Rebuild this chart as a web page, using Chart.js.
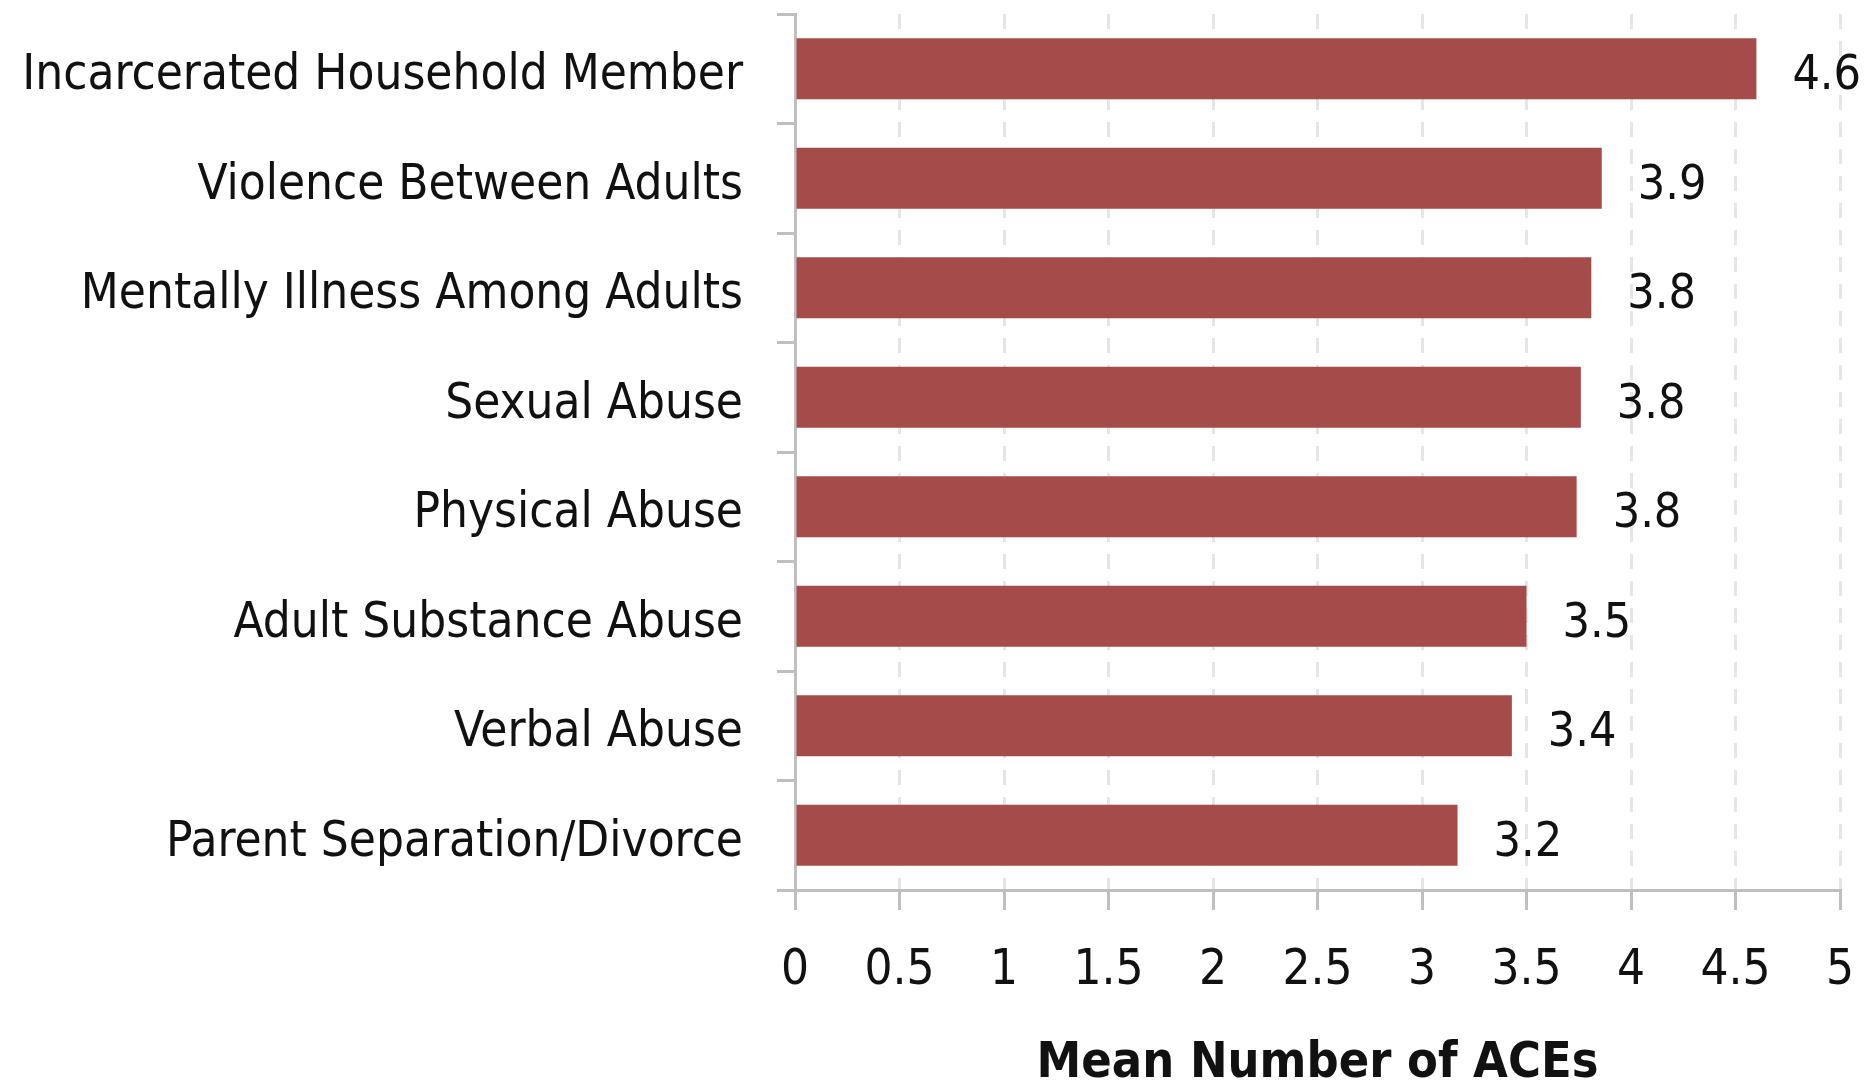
<!DOCTYPE html>
<html>
<head>
<meta charset="utf-8">
<script src="https://cdn.jsdelivr.net/npm/chart.js@4.4.1/dist/chart.umd.min.js"></script>
<style>
    html, body { margin: 0; padding: 0; background: #ffffff; }
    #caixa { width: 1874px; height: 1088px; }
</style>
</head>
<body>
<div id="caixa"><canvas id="grafico"></canvas></div>
<script>
const categorias = [
    "Incarcerated Household Member",
    "Violence Between Adults",
    "Mentally Illness Among Adults",
    "Sexual Abuse",
    "Physical Abuse",
    "Adult Substance Abuse",
    "Verbal Abuse",
    "Parent Separation/Divorce"
];
const medias = [4.60, 3.86, 3.81, 3.76, 3.74, 3.50, 3.43, 3.17];
const rotulosDosValores = ["4.6", "3.9", "3.8", "3.8", "3.8", "3.5", "3.4", "3.2"];
const ticksDoEixoX = [0, 0.5, 1, 1.5, 2, 2.5, 3, 3.5, 4, 4.5, 5];

const fonte = "'Liberation Sans Narrow', 'DejaVu Sans Condensed', 'Open Sans', sans-serif";
const corDaBarra = "#a54b49";
const corDoEixo = "#bfbfbf";

// escreve o valor ao lado de cada barra
const rotulosNasBarras = {
    id: "rotulosNasBarras",
    afterDatasetsDraw(chart) {
        const ctx = chart.ctx;
        const meta = chart.getDatasetMeta(0);
        ctx.save();
        ctx.font = "48px " + fonte;
        ctx.fillStyle = "#111111";
        ctx.textAlign = "left";
        ctx.textBaseline = "middle";
        meta.data.forEach((barra, i) => {
            ctx.fillText(rotulosDosValores[i], barra.x + 36, barra.y + 8);
        });
        ctx.restore();
    }
};

new Chart(document.querySelector("#grafico"), {
    type: "bar",
    plugins: [rotulosNasBarras],
    data: {
        labels: categorias,
        datasets: [{
            data: medias,
            backgroundColor: corDaBarra,
            borderWidth: 0,
            categoryPercentage: 1,
            barPercentage: 0.557
        }]
    },
    options: {
        indexAxis: "y",
        responsive: true,
        maintainAspectRatio: false,
        animation: false,
        layout: { padding: { top: 14, right: 34, left: 0, bottom: 0 } },
        plugins: { legend: { display: false }, tooltip: { enabled: false } },
        scales: {
            x: {
                type: "linear",
                min: 0,
                max: 5,
                afterBuildTicks: (eixo) => { eixo.ticks = ticksDoEixoX.map(v => ({ value: v })); },
                afterFit: (eixo) => {
                    eixo.height = 198;
                    eixo.paddingLeft = 0;
                    eixo.paddingRight = 0;
                },
                grid: {
                    color: (c) => c.index === 0 ? "rgba(0,0,0,0)" : "#e6e6e6",
                    lineWidth: 3,
                    tickColor: corDoEixo,
                    tickLength: 20,
                    tickWidth: 3
                },
                border: { display: true, color: corDoEixo, width: 3, dash: [15, 12] },
                ticks: {
                    color: "#111111",
                    font: { family: fonte, size: 49 },
                    padding: 32,
                    maxRotation: 0,
                    autoSkip: false,
                    callback: (valor) => String(valor)
                },
                title: {
                    display: true,
                    text: "Mean Number of ACEs",
                    color: "#111111",
                    font: { family: fonte, size: 50, weight: "bold", lineHeight: 0.8 },
                    padding: { top: 0, bottom: 4 }
                }
            },
            y: {
                type: "category",
                afterFit: (eixo) => {
                    eixo.width = 795;
                    eixo.paddingTop = 0;
                    eixo.paddingBottom = 0;
                },
                grid: {
                    offset: true,
                    drawOnChartArea: false,
                    tickColor: corDoEixo,
                    tickLength: 18,
                    tickWidth: 3
                },
                border: { display: true, color: corDoEixo, width: 3 },
                ticks: {
                    color: "#111111",
                    font: { family: fonte, size: 49 },
                    padding: 34,
                    labelOffset: 8,
                    autoSkip: false
                }
            }
        }
    }
});
</script>
</body>
</html>
